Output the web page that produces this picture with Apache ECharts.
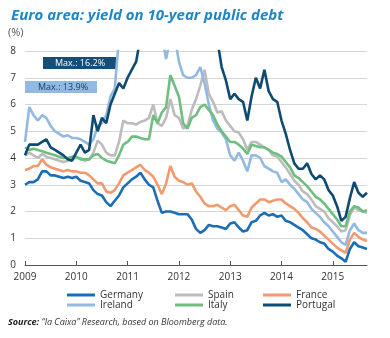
<!DOCTYPE html>
<html><head><meta charset="utf-8">
<script src="https://cdn.jsdelivr.net/npm/echarts@6/dist/echarts.min.js"></script>
<style>html,body{margin:0;padding:0;background:#fff}#c{width:390px;height:338px}</style>
</head><body><div id="c"></div>
<script>
// monthly observations, first month 2009-01, last 2015-09
const startYear = 2009;
const yearTicks = [2009, 2010, 2011, 2012, 2013, 2014, 2015];
const seriesNames = ['Germany', 'Ireland', 'Spain', 'Italy', 'France', 'Portugal'];

const germany = [
 3.0,3.1,3.1,3.2,3.5,3.5,3.35,3.35,3.3,3.25,3.3,3.25,
 3.3,3.15,3.1,3.05,2.8,2.65,2.6,2.35,2.2,2.4,2.6,2.9,
 3.05,3.2,3.3,3.45,3.2,3.0,2.9,2.4,1.95,2.0,2.0,1.95,
 1.9,1.9,1.9,1.7,1.35,1.2,1.3,1.5,1.45,1.45,1.4,1.35,
 1.55,1.6,1.4,1.25,1.3,1.6,1.65,1.85,1.95,1.85,1.9,1.8,
 1.85,1.65,1.6,1.5,1.4,1.3,1.15,1.0,0.95,0.85,0.8,0.6,
 0.5,0.35,0.25,0.12,0.6,0.85,0.7,0.65,0.6];
const ireland = [
 4.6,5.9,5.6,5.4,5.6,5.5,5.2,5.0,4.9,4.8,4.85,4.75,
 4.75,4.7,4.6,4.5,4.7,5.2,5.3,5.6,6.3,6.6,8.5,9.0,
 9.0,9.3,9.8,10.2,10.8,11.5,13.5,9.8,8.6,7.7,8.5,8.6,
 7.6,7.1,7.0,7.0,7.1,7.4,6.8,6.0,5.4,5.1,4.95,4.7,
 4.1,3.9,4.2,3.9,3.5,4.1,4.1,4.0,3.7,3.6,3.5,3.45,
 3.1,3.2,3.0,2.85,2.65,2.45,2.35,2.1,1.95,1.8,1.6,1.45,
 1.25,1.05,0.85,0.75,1.3,1.55,1.3,1.2,1.2];
const spain = [
 4.1,4.2,4.1,4.0,4.15,4.05,4.0,3.95,3.9,3.85,3.9,3.95,
 4.0,4.0,3.9,3.95,4.2,4.65,4.5,4.2,4.1,4.1,4.6,5.4,
 5.3,5.3,5.25,5.35,5.4,5.5,6.0,5.3,5.2,5.5,6.2,5.6,
 5.5,5.1,5.2,5.8,6.2,6.7,7.3,6.4,6.1,5.7,5.75,5.4,
 5.2,5.0,4.95,4.7,4.3,4.6,4.6,4.5,4.4,4.3,4.1,4.05,
 3.85,3.65,3.4,3.15,3.0,2.75,2.65,2.45,2.2,2.1,2.0,1.75,
 1.6,1.45,1.25,1.3,1.85,2.15,2.05,2.0,1.95];
const italy = [
 4.4,4.3,4.35,4.3,4.25,4.2,4.15,4.1,4.05,4.0,4.0,4.05,
 4.05,3.95,3.95,3.95,4.1,4.15,4.0,3.9,3.85,3.8,4.1,4.5,
 4.6,4.8,4.8,4.75,4.7,4.7,5.6,5.3,5.7,5.9,7.1,6.7,
 6.3,5.3,5.1,5.5,5.6,5.9,6.0,5.8,5.6,5.25,5.0,4.8,
 4.6,4.6,4.5,4.35,4.15,4.5,4.45,4.4,4.4,4.3,4.2,4.15,
 4.05,3.85,3.65,3.35,3.25,3.1,2.95,2.75,2.55,2.45,2.3,2.1,
 1.9,1.7,1.45,1.45,2.0,2.2,2.15,2.0,2.05];
const france = [
 3.55,3.6,3.7,3.7,3.95,3.75,3.65,3.6,3.55,3.5,3.55,3.5,
 3.5,3.45,3.45,3.35,3.2,3.05,3.05,2.75,2.7,2.8,3.05,3.35,
 3.45,3.55,3.65,3.75,3.55,3.45,3.3,3.0,2.65,3.05,3.7,3.3,
 3.15,3.1,3.0,3.05,2.75,2.55,2.3,2.2,2.2,2.25,2.15,2.05,
 2.2,2.25,2.05,1.85,1.8,2.15,2.3,2.45,2.45,2.35,2.4,2.45,
 2.45,2.3,2.2,2.1,1.95,1.75,1.6,1.4,1.35,1.25,1.1,0.95,
 0.8,0.65,0.55,0.45,0.95,1.2,1.05,0.95,0.9];
const portugal = [
 4.1,4.5,4.5,4.5,4.6,4.7,4.4,4.3,4.2,4.1,3.95,3.9,
 4.2,4.5,4.2,4.3,5.6,5.0,5.5,5.3,6.0,6.4,6.8,6.6,
 7.0,7.3,7.6,8.5,9.5,10.5,11.5,10.5,11.0,11.5,12.5,13.0,
 15.5,13.0,12.8,12.0,11.5,10.5,10.3,9.5,8.6,8.4,7.4,6.9,
 6.2,6.4,6.2,6.1,5.4,6.3,7.0,6.6,7.3,6.5,6.2,6.1,
 5.4,4.9,4.3,3.8,3.6,3.6,3.8,3.4,3.2,3.35,3.2,2.8,
 2.6,2.2,1.65,1.8,2.5,3.1,2.7,2.55,2.7];

const colors = {Germany:'#1b6db4', Ireland:'#93b8e2', Spain:'#bcbcbc', Italy:'#6fbe80', France:'#f19a6e', Portugal:'#0e4a72'};
const values = {Germany:germany, Ireland:ireland, Spain:spain, Italy:italy, France:france, Portugal:portugal};

function toPairs(arr){ return arr.map((v,i)=>[startYear + i/12, v]); }
const drawOrder = ['Spain','Ireland','Italy','France','Germany','Portugal'];
const xMax = startYear + (germany.length-1)/12;

const chart = echarts.init(document.getElementById('c'), null, {renderer:'canvas'});
const legendCommon = {orient:'vertical', itemWidth:28, itemHeight:10, itemGap:0, top:285,
  textStyle:{fontSize:10, color:'#333', fontFamily:'Open Sans', padding:[0,0,0,0]}, icon:'path://M0,0L28,0L28,3L0,3Z', selectedMode:false};
chart.setOption({
  animation:false,
  backgroundColor:'#fff',
  textStyle:{fontFamily:'Open Sans'},
  title:{text:'Euro area: yield on 10-year public debt', left:6, top:3,
     textStyle:{fontSize:15, fontWeight:'bold', fontStyle:'italic', color:'#1f86c6', fontFamily:'Open Sans'}},
  grid:{left:25, right:23, top:51, bottom:73},
  xAxis:{type:'value', min:startYear, max:xMax,
    axisLine:{lineStyle:{color:'#555', width:1}},
    axisTick:{show:true, inside:true, length:4, lineStyle:{color:'#555'}, customValues:yearTicks},
    axisLabel:{customValues:yearTicks, fontSize:10, color:'#333', margin:7, formatter:v=>String(Math.round(v))},
    splitLine:{show:false}},
  yAxis:{type:'value', min:0, max:8, interval:1,
    axisLine:{show:false}, axisTick:{show:false},
    axisLabel:{fontSize:10, color:'#333', margin:9},
    splitLine:{lineStyle:{color:'#d6d6d6', width:1}}},
  legend:[
    Object.assign({}, legendCommon, {left:62, data:['Germany','Ireland']}),
    Object.assign({}, legendCommon, {left:170, data:['Spain','Italy']}),
    Object.assign({}, legendCommon, {left:258, data:['France','Portugal']})
  ],
  graphic:[
    {type:'text', left:8, top:27, style:{text:'(%)', fill:'#555', font:'11px "Open Sans"'}},
    {type:'rect', left:43, top:57, shape:{width:73, height:12}, style:{fill:'#164e78'}},
    {type:'text', left:55, top:58.5, style:{text:'Max.: 16.2%', fill:'#fff', font:'9px "Open Sans"'}},
    {type:'rect', left:25, top:81, shape:{width:72, height:12}, style:{fill:'#93b8e2'}},
    {type:'text', left:38, top:82.5, style:{text:'Max.: 13.9%', fill:'#163d5c', font:'9px "Open Sans"'}},
    {type:'text', left:8, top:318, style:{
      text:'{b|Source:} “la Caixa” Research, based on Bloomberg data.',
      rich:{b:{fontWeight:'bold', fontStyle:'italic', fontSize:9, fill:'#222', fontFamily:'Open Sans'}},
      font:'italic 9px "Open Sans"', fill:'#333'}}
  ],
  series: drawOrder.map(n=>({name:n, type:'line', data:toPairs(values[n]), showSymbol:false, clip:true,
    lineStyle:{color:colors[n], width:2.6}, itemStyle:{color:colors[n]}}))
});
</script></body></html>
